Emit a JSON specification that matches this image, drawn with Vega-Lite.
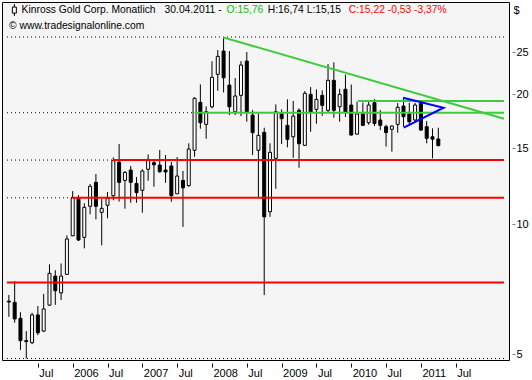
{
  "$schema": "https://vega.github.io/schema/vega-lite/v6.json",
  "width": 507,
  "height": 358,
  "autosize": {"type": "none"},
  "padding": {"left": 2, "top": 2, "right": 23, "bottom": 20},
  "background": "white",
  "config": {
    "view": {"fill": "#f5f5f5", "stroke": "#000000", "strokeWidth": 1},
    "font": "Liberation Sans",
    "axis": {"labelFont": "Liberation Sans", "labelFontSize": 11, "labelColor": "#000000", "grid": false, "domain": false}
  },
  "datasets": {
    "candles": [
      {"month": "2005-02", "m": 1, "o": 6.64, "h": 6.86, "l": 6.11, "c": 6.61},
      {"month": "2005-03", "m": 2, "o": 6.60, "h": 7.39, "l": 5.92, "c": 6.04},
      {"month": "2005-04", "m": 3, "o": 6.06, "h": 6.26, "l": 5.12, "c": 5.38},
      {"month": "2005-05", "m": 4, "o": 5.38, "h": 5.66, "l": 4.89, "c": 5.35},
      {"month": "2005-06", "m": 5, "o": 5.32, "h": 6.24, "l": 5.28, "c": 6.17},
      {"month": "2005-07", "m": 6, "o": 6.17, "h": 6.47, "l": 5.54, "c": 5.61},
      {"month": "2005-08", "m": 7, "o": 5.66, "h": 6.90, "l": 5.63, "c": 6.37},
      {"month": "2005-09", "m": 8, "o": 6.50, "h": 8.08, "l": 6.48, "c": 7.70},
      {"month": "2005-10", "m": 9, "o": 7.59, "h": 7.83, "l": 6.51, "c": 7.02},
      {"month": "2005-11", "m": 10, "o": 6.94, "h": 8.12, "l": 6.68, "c": 7.59},
      {"month": "2005-12", "m": 11, "o": 7.66, "h": 9.43, "l": 7.65, "c": 9.25},
      {"month": "2006-01", "m": 12, "o": 9.41, "h": 11.94, "l": 9.39, "c": 11.52},
      {"month": "2006-02", "m": 13, "o": 11.49, "h": 11.69, "l": 9.15, "c": 9.20},
      {"month": "2006-03", "m": 14, "o": 9.33, "h": 11.19, "l": 8.80, "c": 10.95},
      {"month": "2006-04", "m": 15, "o": 11.01, "h": 12.40, "l": 10.55, "c": 12.25},
      {"month": "2006-05", "m": 16, "o": 12.51, "h": 13.08, "l": 10.27, "c": 11.01},
      {"month": "2006-06", "m": 17, "o": 10.66, "h": 11.44, "l": 8.94, "c": 10.89},
      {"month": "2006-07", "m": 18, "o": 11.07, "h": 11.88, "l": 10.33, "c": 11.49},
      {"month": "2006-08", "m": 19, "o": 11.65, "h": 14.29, "l": 11.37, "c": 14.04},
      {"month": "2006-09", "m": 20, "o": 13.93, "h": 15.34, "l": 11.29, "c": 12.51},
      {"month": "2006-10", "m": 21, "o": 12.64, "h": 13.29, "l": 10.87, "c": 13.19},
      {"month": "2006-11", "m": 22, "o": 13.36, "h": 13.65, "l": 11.22, "c": 12.51},
      {"month": "2006-12", "m": 23, "o": 12.44, "h": 12.87, "l": 11.22, "c": 11.84},
      {"month": "2007-01", "m": 24, "o": 11.99, "h": 13.41, "l": 10.64, "c": 13.29},
      {"month": "2007-02", "m": 25, "o": 13.41, "h": 14.52, "l": 12.62, "c": 14.14},
      {"month": "2007-03", "m": 26, "o": 13.89, "h": 14.14, "l": 12.22, "c": 13.74},
      {"month": "2007-04", "m": 27, "o": 13.72, "h": 14.86, "l": 13.17, "c": 13.24},
      {"month": "2007-05", "m": 28, "o": 13.36, "h": 14.47, "l": 12.48, "c": 13.22},
      {"month": "2007-06", "m": 29, "o": 13.65, "h": 13.94, "l": 11.28, "c": 11.65},
      {"month": "2007-07", "m": 30, "o": 11.77, "h": 14.32, "l": 11.77, "c": 12.94},
      {"month": "2007-08", "m": 31, "o": 12.64, "h": 13.29, "l": 9.87, "c": 12.15},
      {"month": "2007-09", "m": 32, "o": 12.29, "h": 15.40, "l": 12.22, "c": 14.94},
      {"month": "2007-10", "m": 33, "o": 14.84, "h": 19.70, "l": 14.34, "c": 19.58},
      {"month": "2007-11", "m": 34, "o": 19.16, "h": 21.09, "l": 16.65, "c": 17.19},
      {"month": "2007-12", "m": 35, "o": 17.04, "h": 18.76, "l": 15.78, "c": 18.23},
      {"month": "2008-01", "m": 36, "o": 18.72, "h": 23.85, "l": 18.56, "c": 21.90},
      {"month": "2008-02", "m": 37, "o": 22.25, "h": 25.33, "l": 20.39, "c": 24.49},
      {"month": "2008-03", "m": 38, "o": 25.19, "h": 27.15, "l": 20.20, "c": 21.85},
      {"month": "2008-04", "m": 39, "o": 21.01, "h": 25.19, "l": 17.91, "c": 18.72},
      {"month": "2008-05", "m": 40, "o": 18.23, "h": 21.81, "l": 17.91, "c": 19.82},
      {"month": "2008-06", "m": 41, "o": 19.89, "h": 23.88, "l": 17.81, "c": 23.38},
      {"month": "2008-07", "m": 42, "o": 23.88, "h": 25.06, "l": 17.28, "c": 18.23},
      {"month": "2008-08", "m": 43, "o": 17.91, "h": 18.39, "l": 14.47, "c": 16.30},
      {"month": "2008-09", "m": 44, "o": 14.84, "h": 18.01, "l": 11.58, "c": 16.07},
      {"month": "2008-10", "m": 45, "o": 16.33, "h": 16.74, "l": 6.86, "c": 10.41},
      {"month": "2008-11", "m": 46, "o": 10.70, "h": 15.40, "l": 10.41, "c": 14.68},
      {"month": "2008-12", "m": 47, "o": 14.22, "h": 18.96, "l": 12.09, "c": 18.23},
      {"month": "2009-01", "m": 48, "o": 18.01, "h": 18.46, "l": 15.34, "c": 17.56},
      {"month": "2009-02", "m": 49, "o": 16.95, "h": 19.47, "l": 15.08, "c": 15.73},
      {"month": "2009-03", "m": 50, "o": 15.95, "h": 19.30, "l": 14.26, "c": 17.81},
      {"month": "2009-04", "m": 51, "o": 18.36, "h": 18.56, "l": 13.52, "c": 15.37},
      {"month": "2009-05", "m": 52, "o": 15.24, "h": 20.35, "l": 15.24, "c": 20.11},
      {"month": "2009-06", "m": 53, "o": 20.00, "h": 20.79, "l": 16.38, "c": 18.17},
      {"month": "2009-07", "m": 54, "o": 18.46, "h": 20.54, "l": 17.10, "c": 19.47},
      {"month": "2009-08", "m": 55, "o": 19.89, "h": 20.43, "l": 17.84, "c": 18.86},
      {"month": "2009-09", "m": 56, "o": 18.36, "h": 23.50, "l": 18.20, "c": 21.55},
      {"month": "2009-10", "m": 57, "o": 21.55, "h": 23.72, "l": 17.65, "c": 18.36},
      {"month": "2009-11", "m": 58, "o": 18.72, "h": 20.60, "l": 17.28, "c": 20.00},
      {"month": "2009-12", "m": 59, "o": 20.55, "h": 22.22, "l": 17.72, "c": 18.20},
      {"month": "2010-01", "m": 60, "o": 18.89, "h": 21.07, "l": 16.04, "c": 16.10},
      {"month": "2010-02", "m": 61, "o": 16.18, "h": 19.23, "l": 16.14, "c": 18.01},
      {"month": "2010-03", "m": 62, "o": 18.01, "h": 19.14, "l": 16.89, "c": 16.95},
      {"month": "2010-04", "m": 63, "o": 17.19, "h": 19.23, "l": 17.01, "c": 18.89},
      {"month": "2010-05", "m": 64, "o": 19.12, "h": 19.50, "l": 16.89, "c": 17.12},
      {"month": "2010-06", "m": 65, "o": 17.44, "h": 18.39, "l": 16.53, "c": 16.95},
      {"month": "2010-07", "m": 66, "o": 16.83, "h": 17.01, "l": 15.14, "c": 16.31},
      {"month": "2010-08", "m": 67, "o": 16.60, "h": 16.95, "l": 14.73, "c": 16.89},
      {"month": "2010-09", "m": 68, "o": 17.04, "h": 19.09, "l": 16.30, "c": 18.66},
      {"month": "2010-10", "m": 69, "o": 18.79, "h": 19.64, "l": 16.83, "c": 17.75},
      {"month": "2010-11", "m": 70, "o": 18.01, "h": 19.12, "l": 16.89, "c": 17.28},
      {"month": "2010-12", "m": 71, "o": 17.44, "h": 19.12, "l": 17.35, "c": 18.89},
      {"month": "2011-01", "m": 72, "o": 19.06, "h": 19.40, "l": 16.47, "c": 16.53},
      {"month": "2011-02", "m": 73, "o": 16.83, "h": 17.35, "l": 15.40, "c": 15.82},
      {"month": "2011-03", "m": 74, "o": 15.95, "h": 16.68, "l": 14.22, "c": 15.75},
      {"month": "2011-04", "m": 75, "o": 15.76, "h": 16.74, "l": 15.15, "c": 15.22}
    ],
    "levels": [
      {"kind": "red", "p": 14.09, "m1": 18.93, "m2": 86.32},
      {"kind": "red", "p": 11.52, "m1": 12, "m2": 86.32},
      {"kind": "red", "p": 7.33, "m1": 0.68, "m2": 86.32},
      {"kind": "green", "p": 18.13, "m1": 33.0, "m2": 86.32},
      {"kind": "green", "p": 19.31, "m1": 61.15, "m2": 86.32}
    ],
    "dotted": [
      {"p": 27.15, "m1": 0.68, "m2": 86.32},
      {"p": 4.89, "m1": 0.68, "m2": 86.32},
      {"p": 18.13, "m1": 0.68, "m2": 33.0},
      {"p": 14.09, "m1": 0.68, "m2": 18.93},
      {"p": 11.52, "m1": 0.68, "m2": 12}
    ],
    "trend": [
      {"m": 37.9, "p": 27.10},
      {"m": 86.32, "p": 17.56}
    ],
    "wedge": [
      {"i": 0, "m": 68.93, "p": 19.64},
      {"i": 1, "m": 75.9, "p": 18.62},
      {"i": 2, "m": 69.04, "p": 16.74}
    ]
  },
  "layer": [
    {
      "data": {"name": "candles"},
      "mark": {"type": "rule", "color": "#000000", "strokeWidth": 1, "clip": true},
      "encoding": {
        "x": {
          "field": "m", "type": "quantitative",
          "scale": {"domain": [0.68, 86.32], "nice": false, "zero": false},
          "axis": {
            "values": [6, 12, 18, 24, 30, 36, 42, 48, 54, 60, 66, 72, 78],
            "labelExpr": "datum.value % 12 == 0 ? toString(2005 + datum.value / 12) : 'Jul'",
            "title": null, "tickSize": 4, "offset": 3, "tickColor": "#000000",
            "labelAlign": "left", "labelBaseline": "top", "labelPadding": 0, "labelOffset": 1,
            "labelFlush": false, "labelOverlap": false
          }
        },
        "y": {
          "field": "l", "type": "quantitative",
          "scale": {"type": "log", "domain": [4.852, 32.72], "nice": false, "zero": false},
          "axis": {
            "orient": "right", "values": [5, 10, 15, 20, 25], "format": "d",
            "title": "$", "titleAngle": 0, "titleX": 4, "titleY": 8, "titleAlign": "center",
            "titleBaseline": "middle", "titleFontWeight": "normal", "titleFontSize": 11,
            "titleFont": "Liberation Sans", "titleColor": "#000000",
            "tickSize": 3, "offset": 3, "tickColor": "#808080", "labelPadding": 1,
            "labelAlign": "left", "labelBaseline": "middle"
          }
        },
        "y2": {"field": "h"}
      }
    },
    {
      "data": {"name": "candles"},
      "mark": {"type": "bar", "size": 3, "stroke": "#000000", "strokeWidth": 1, "clip": true},
      "encoding": {
        "x": {"field": "m", "type": "quantitative"},
        "y": {"field": "o", "type": "quantitative"},
        "y2": {"field": "c"},
        "fill": {"condition": {"test": "datum.c > datum.o", "value": "#ffffff"}, "value": "#000000"}
      }
    },
    {
      "data": {"name": "dotted"},
      "mark": {"type": "rule", "color": "#000000", "strokeWidth": 1, "strokeDash": [1, 3], "clip": true},
      "encoding": {
        "x": {"field": "m1", "type": "quantitative"},
        "x2": {"field": "m2"},
        "y": {"field": "p", "type": "quantitative"}
      }
    },
    {
      "data": {"name": "levels"},
      "mark": {"type": "rule", "strokeWidth": 2, "clip": true},
      "encoding": {
        "x": {"field": "m1", "type": "quantitative"},
        "x2": {"field": "m2"},
        "y": {"field": "p", "type": "quantitative"},
        "color": {"field": "kind", "type": "nominal", "scale": {"domain": ["red", "green"], "range": ["#ff0000", "#3ccc3c"]}, "legend": null}
      }
    },
    {
      "data": {"name": "trend"},
      "mark": {"type": "line", "color": "#3ccc3c", "strokeWidth": 2, "clip": true},
      "encoding": {
        "x": {"field": "m", "type": "quantitative"},
        "y": {"field": "p", "type": "quantitative"}
      }
    },
    {
      "data": {"name": "wedge"},
      "mark": {"type": "line", "color": "#0000ff", "strokeWidth": 2, "clip": true},
      "encoding": {
        "x": {"field": "m", "type": "quantitative"},
        "y": {"field": "p", "type": "quantitative"},
        "order": {"field": "i", "type": "quantitative"}
      }
    },
    {
      "data": {"values": [{}]},
      "mark": {"type": "rule", "color": "#000000", "strokeWidth": 1},
      "encoding": {
        "x": {"datum": 1.95, "type": "quantitative"},
        "y": {"datum": 32.37, "type": "quantitative"},
        "y2": {"datum": 30.36}
      }
    },
    {
      "data": {"values": [{}]},
      "mark": {"type": "bar", "size": 4, "fill": "#ffffff", "stroke": "#000000", "strokeWidth": 1},
      "encoding": {
        "x": {"datum": 1.95, "type": "quantitative"},
        "y": {"datum": 31.85, "type": "quantitative"},
        "y2": {"datum": 30.84}
      }
    },
    {
      "data": {"values": [{}]},
      "mark": {"type": "text", "text": "Kinross Gold Corp. Monatlich", "align": "left", "baseline": "middle", "fontSize": 10.3, "font": "Liberation Sans", "color": "#000000"},
      "encoding": {
        "x": {"datum": 3.2, "type": "quantitative"},
        "y": {"datum": 31.35, "type": "quantitative"}
      }
    },
    {
      "data": {"values": [{}]},
      "mark": {"type": "text", "text": "30.04.2011 -", "align": "left", "baseline": "middle", "fontSize": 10.3, "font": "Liberation Sans", "color": "#000000"},
      "encoding": {
        "x": {"datum": 27.83, "type": "quantitative"},
        "y": {"datum": 31.35, "type": "quantitative"}
      }
    },
    {
      "data": {"values": [{}]},
      "mark": {"type": "text", "text": "O:15,76", "align": "left", "baseline": "middle", "fontSize": 10.3, "font": "Liberation Sans", "color": "#11bb11"},
      "encoding": {
        "x": {"datum": 38.52, "type": "quantitative"},
        "y": {"datum": 31.35, "type": "quantitative"}
      }
    },
    {
      "data": {"values": [{}]},
      "mark": {"type": "text", "text": "H:16,74 L:15,15", "align": "left", "baseline": "middle", "fontSize": 10.3, "font": "Liberation Sans", "color": "#000000"},
      "encoding": {
        "x": {"datum": 45.61, "type": "quantitative"},
        "y": {"datum": 31.35, "type": "quantitative"}
      }
    },
    {
      "data": {"values": [{}]},
      "mark": {"type": "text", "text": "C:15,22 -0,53 -3,37%", "align": "left", "baseline": "middle", "fontSize": 10.3, "font": "Liberation Sans", "color": "#ff0000"},
      "encoding": {
        "x": {"datum": 59.58, "type": "quantitative"},
        "y": {"datum": 31.35, "type": "quantitative"}
      }
    },
    {
      "data": {"values": [{}]},
      "mark": {"type": "text", "text": "© www.tradesignalonline.com", "align": "left", "baseline": "middle", "fontSize": 10.3, "font": "Liberation Sans", "color": "#000000"},
      "encoding": {
        "x": {"datum": 1.04, "type": "quantitative"},
        "y": {"datum": 28.86, "type": "quantitative"}
      }
    }
  ]
}
